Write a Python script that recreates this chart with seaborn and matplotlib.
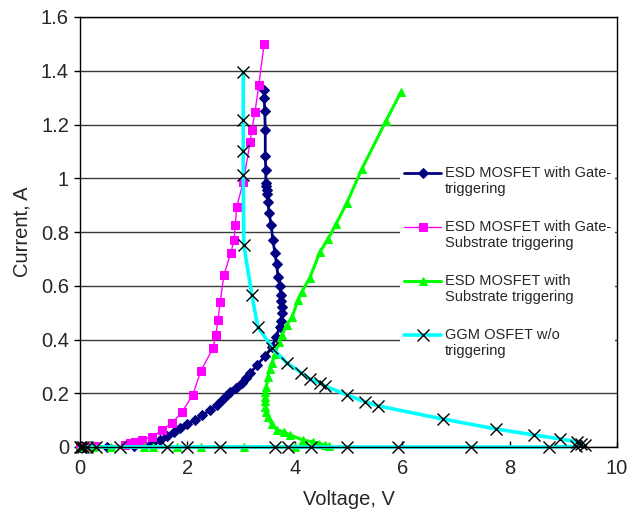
import numpy as np
import pandas as pd
import matplotlib
matplotlib.use("Agg")
import matplotlib.pyplot as plt
from matplotlib.lines import Line2D
from matplotlib.legend_handler import HandlerLine2D
import seaborn as sns

# ---------------- data ----------------
gate_v = [0.0, 0.02, 0.05, 0.1, 0.5, 1.0, 1.2, 1.35, 1.49, 1.62, 1.75, 1.86, 2.0, 2.14,
          2.28, 2.42, 2.55, 2.65, 2.74, 2.79, 2.9, 3.02, 3.1, 3.17, 3.3, 3.45, 3.58, 3.65,
          3.72, 3.75, 3.76, 3.76, 3.75, 3.74, 3.72, 3.69, 3.66, 3.63, 3.59, 3.56, 3.52,
          3.50, 3.49, 3.48, 3.47, 3.46, 3.46, 3.45, 3.45, 3.44, 3.43, 3.43]
gate_i = [0.0, 0.0, 0.0, 0.0, 0.001, 0.003, 0.006, 0.014, 0.026, 0.04, 0.055, 0.071, 0.085,
          0.10, 0.118, 0.137, 0.156, 0.175, 0.194, 0.205, 0.22, 0.238, 0.255, 0.276, 0.305,
          0.34, 0.372, 0.41, 0.447, 0.47, 0.50, 0.521, 0.545, 0.566, 0.60, 0.633, 0.68,
          0.723, 0.771, 0.827, 0.87, 0.912, 0.94, 0.957, 0.97, 0.983, 1.03, 1.084, 1.18,
          1.25, 1.30, 1.33]

gsub_v = [0.0, 0.05, 0.1, 0.28, 0.84, 0.93, 1.02, 1.15, 1.34, 1.53, 1.71, 1.90, 2.10, 2.25,
          2.48, 2.53, 2.57, 2.61, 2.68, 2.81, 2.87, 2.89, 2.92, 3.04, 3.17, 3.20, 3.26,
          3.33, 3.43]
gsub_i = [0.0, 0.0, 0.0, 0.002, 0.007, 0.015, 0.019, 0.026, 0.037, 0.063, 0.089, 0.13,
          0.194, 0.283, 0.369, 0.417, 0.473, 0.54, 0.64, 0.723, 0.771, 0.827, 0.894, 0.987,
          1.136, 1.18, 1.248, 1.348, 1.501]

sub_v = [0.0, 0.05, 0.24, 0.58, 1.19, 1.36, 1.81, 2.25, 3.05, 4.0, 4.64, 4.56, 4.45, 4.34,
         4.15, 3.91, 3.8, 3.67, 3.57, 3.50, 3.47, 3.45, 3.45, 3.45, 3.45, 3.47, 3.50, 3.54,
         3.58, 3.63, 3.70, 3.76, 3.85, 3.95, 4.06, 4.13, 4.28, 4.47, 4.62, 4.77, 4.97,
         5.25, 5.70, 5.98]
sub_i = [0.0, 0.0, 0.0, 0.0, 0.0, 0.0, 0.0, 0.0, 0.0, 0.001, 0.003, 0.007, 0.013, 0.019,
         0.026, 0.045, 0.055, 0.065, 0.085, 0.11, 0.13, 0.149, 0.17, 0.186, 0.205, 0.223,
         0.26, 0.29, 0.313, 0.345, 0.39, 0.417, 0.454, 0.484, 0.547, 0.577, 0.63, 0.726,
         0.775, 0.83, 0.909, 1.035, 1.214, 1.322]

ggm_v = [0.0, 0.02, 0.05, 0.13, 0.3, 0.74, 1.62, 1.99, 2.61, 3.63, 3.87, 4.3, 4.97, 5.92,
         7.28, 8.73, 9.24, 9.4, 9.33, 9.26, 8.94, 8.45, 7.75, 6.76, 5.55, 5.31, 4.97, 4.56,
         4.47, 4.28, 4.12, 3.85, 3.58, 3.31, 3.20, 3.05, 3.04, 3.04, 3.04, 3.04]
ggm_i = [0.0, 0.0, 0.0, 0.0, 0.0, 0.0, 0.0, 0.0, 0.0, 0.0, 0.0, 0.0, 0.0, 0.0, 0.0, 0.0,
         0.002, 0.006, 0.012, 0.019, 0.030, 0.045, 0.067, 0.104, 0.153, 0.168, 0.194,
         0.227, 0.238, 0.253, 0.276, 0.313, 0.369, 0.447, 0.566, 0.752, 1.013, 1.10,
         1.218, 1.397]

labels = ["ESD MOSFET with Gate-\ntriggering",
          "ESD MOSFET with Gate-\nSubstrate triggering",
          "ESD MOSFET with\nSubstrate triggering",
          "GGM OSFET w/o\ntriggering"]

x_ticks = [0, 2, 4, 6, 8, 10]
x_tick_labels = ["0", "2", "4", "6", "8", "10"]
y_ticks = [0, 0.2, 0.4, 0.6, 0.8, 1.0, 1.2, 1.4, 1.6]
y_tick_labels = ["0", "0.2", "0.4", "0.6", "0.8", "1", "1.2", "1.4", "1.6"]

# ---------------- style ----------------
sns.set_style("white")
plt.rcParams["font.family"] = ["Liberation Sans", "DejaVu Sans"]

fig = plt.figure(figsize=(6.3, 5.13), dpi=100)
ax = fig.add_axes([80 / 630, 66 / 513, 537 / 630, 430 / 513])

styles = [
    dict(color="#000080", linewidth=2.0, marker="D", markersize=5,
         markerfacecolor="#000080", markeredgecolor="#000080"),
    dict(color="#FF00FF", linewidth=1.0, marker="s", markersize=6,
         markerfacecolor="#FF00FF", markeredgecolor="#FF00FF"),
    dict(color="#00FF00", linewidth=2.2, marker="^", markersize=6,
         markerfacecolor="#00FF00", markeredgecolor="#00FF00"),
    dict(color="#00FFFF", linewidth=2.6, marker="x", markersize=8,
         markerfacecolor="black", markeredgecolor="black", markeredgewidth=1.0),
]
series = [(gate_v, gate_i), (gsub_v, gsub_i), (sub_v, sub_i), (ggm_v, ggm_i)]

for (v, i), lab, st in zip(series, labels, styles):
    df = pd.DataFrame({"Voltage": v, "Current": i})
    sns.lineplot(data=df, x="Voltage", y="Current", sort=False, estimator=None,
                 ax=ax, label=lab, clip_on=False, **st)

ax.set_xlim(0, 10)
ax.set_ylim(0, 1.6)
ax.set_xticks(x_ticks)
ax.set_xticklabels(x_tick_labels)
ax.set_yticks(y_ticks)
ax.set_yticklabels(y_tick_labels)

ax.yaxis.grid(True, color="#3a3a3a", linewidth=1.0)
ax.xaxis.grid(False)
ax.set_axisbelow(True)

for sp in ax.spines.values():
    sp.set_visible(True)
    sp.set_color("black")
    sp.set_linewidth(1.0)

ax.tick_params(axis="y", left=True, direction="out", length=4, width=1,
               color="black", labelsize=14.5, pad=4)
ax.tick_params(axis="x", bottom=True, direction="in", length=4, width=1,
               color="black", labelsize=14.5, pad=9)

ax.set_xlabel("Voltage, V", fontsize=14.5, labelpad=8)
ax.set_ylabel("Current, A", fontsize=14.5, labelpad=7)


class FirstLineHandler(HandlerLine2D):
    def __init__(self, shift, **kw):
        super().__init__(**kw)
        self.shift = shift

    def create_artists(self, legend, orig_handle, xdescent, ydescent, width,
                       height, fontsize, trans):
        arts = super().create_artists(legend, orig_handle, xdescent, ydescent,
                                      width, height, fontsize, trans)
        for a in arts:
            a.set_ydata(np.asarray(a.get_ydata(), float) + self.shift * fontsize)
        return arts


handles, labs = ax.get_legend_handles_labels()
leg = ax.legend(handles, labs, loc="upper left", bbox_to_anchor=(0.596, 0.663),
                frameon=True, fancybox=False, edgecolor="none", facecolor="white",
                framealpha=1, fontsize=10.5, handlelength=2.5, handletextpad=0.25,
                labelspacing=1.62, borderpad=0.3, borderaxespad=0, numpoints=1,
                handler_map={Line2D: FirstLineHandler(0.6)})

fig.savefig("out.png", dpi=100)
